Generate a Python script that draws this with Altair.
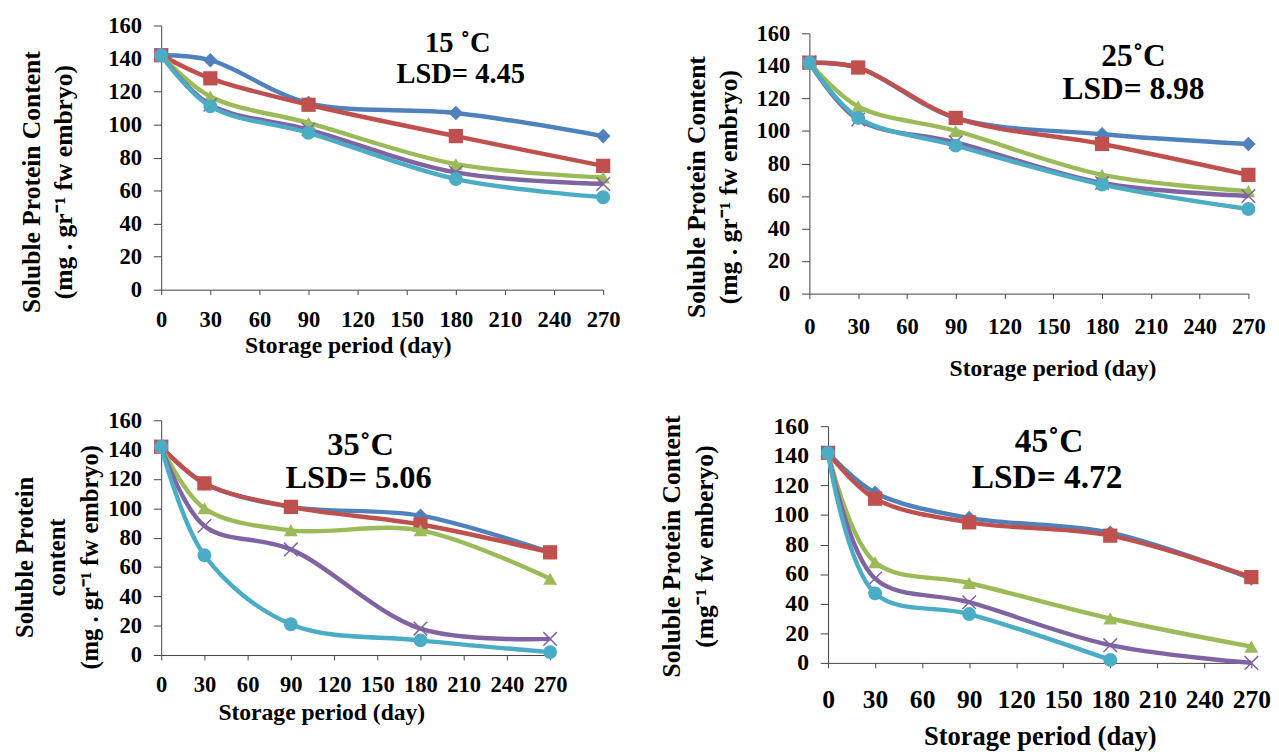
import altair as alt
import pandas as pd

days = [0, 30, 90, 180, 270]
series_names = ["S1", "S2", "S3", "S4", "S5"]
series_colors = ["#4F81BD", "#C0504D", "#9BBB59", "#8064A2", "#4BACC6"]
series_shapes = ["diamond", "square", "triangle-up", "x", "circle"]

# 15 C
t15_s1 = [142, 139, 113, 107, 93]
t15_s2 = [142, 128, 112, 93, 75]
t15_s3 = [142, 117, 101, 76, 68]
t15_s4 = [142, 112, 97, 71, 64]
t15_s5 = [142, 111, 95, 67, 56]
# 25 C
t25_s1 = [142, 139, 108, 98, 92]
t25_s2 = [142, 139, 108, 92, 73]
t25_s3 = [142, 115, 100, 73, 63]
t25_s4 = [142, 107, 93, 68, 60]
t25_s5 = [142, 108, 91, 67, 52]
# 35 C
t35_s1 = [142, 117, 101, 95, 70]
t35_s2 = [142, 117, 101, 89, 70]
t35_s3 = [142, 100, 85, 85, 52]
t35_s4 = [142, 88, 72, 18, 11]
t35_s5 = [142, 68, 21, 10, 2]
# 45 C
t45_s1 = [142, 115, 98, 88, 57]
t45_s2 = [142, 111, 95, 86, 58]
t45_s3 = [142, 68, 54, 30, 11]
t45_s4 = [142, 57, 41, 12, 0]
t45_s5 = [142, 47, 33, 2, None]

panel_values = {
    "15": [t15_s1, t15_s2, t15_s3, t15_s4, t15_s5],
    "25": [t25_s1, t25_s2, t25_s3, t25_s4, t25_s5],
    "35": [t35_s1, t35_s2, t35_s3, t35_s4, t35_s5],
    "45": [t45_s1, t45_s2, t45_s3, t45_s4, t45_s5],
}
temp_labels = {"15": "15  \u02daC", "25": "25\u02daC", "35": "35\u02daC", "45": "45\u02daC"}
lsd_labels = {"15": "LSD= 4.45", "25": "LSD= 8.98", "35": "LSD= 5.06", "45": "LSD= 4.72"}
y_titles = {
    "15": ["Soluble  Protein Content", "(mg . gr\u207b\u00b9 fw embryo)"],
    "25": ["Soluble  Protein Content", "(mg . gr\u207b\u00b9 fw embryo)"],
    "35": ["Soluble  Protein", "content", "(mg . gr\u207b\u00b9 fw  embryo)"],
    "45": ["Soluble Protein Content", "(mg\u207b\u00b9 fw emberyo)"],
}
x_title = "Storage period (day)"

rows = []
for p, vals in panel_values.items():
    for name, arr in zip(series_names, vals):
        for d, v in zip(days, arr):
            if v is not None:
                rows.append({"panel": p, "series": name, "day": d, "value": v})
df = pd.DataFrame(rows)

X_PATH = "M-1,-1L1,1M-1,1L1,-1"
FONT = "Liberation Serif"


def panel(p, w, h, cfg):
    top = cfg["top"]
    H = h + top
    data = df[df.panel == p]
    base = alt.Chart(data)
    xenc = alt.X("day:Q", scale=alt.Scale(domain=[0, 270], nice=False),
                 axis=alt.Axis(values=list(range(0, 271, 30)), title=x_title,
                               labelFontSize=cfg["xlab"], titleFontSize=cfg["xtit"],
                               labelPadding=cfg["xlabpad"], titlePadding=cfg["xtitpad"],
                               titleX=w / 2 + cfg["xtitshift"], tickSize=5))
    yenc = alt.Y("value:Q", scale=alt.Scale(domain=[0, 160], nice=False, range=[H, top]),
                 axis=alt.Axis(values=list(range(0, 161, 20)), title=y_titles[p],
                               labelFontSize=cfg["ylab"], titleFontSize=cfg["ytit"],
                               titleLineHeight=33, titleX=cfg["ytitx"], titleBaseline="top",
                               titleY=H / 2 + cfg["ytitshift"], tickSize=8, labelPadding=12))
    layers = []
    for name, color, shape in zip(series_names, series_colors, series_shapes):
        sub = base.transform_filter(alt.datum.series == name)
        layers.append(sub.mark_line(color=color, strokeWidth=4.5,
                                    interpolate="catmull-rom").encode(x=xenc, y=yenc))
        if shape == "x":
            layers.append(sub.mark_point(shape=X_PATH, color=color, filled=False,
                                         strokeWidth=1.5, size=190, opacity=1)
                          .encode(x=xenc, y=yenc))
        else:
            size = {"diamond": 220, "square": 210, "triangle-up": 200, "circle": 200}[shape]
            layers.append(sub.mark_point(shape=shape, color=color, filled=True,
                                         size=size, opacity=1)
                          .encode(x=xenc, y=yenc))
    tx, ty, lx, ly = cfg["ann"]
    t1 = alt.Chart(pd.DataFrame({"t": [temp_labels[p]]})).mark_text(
        font=FONT, fontWeight="bold", fontSize=cfg["annsize"], color="black"
    ).encode(text="t:N", x=alt.value(tx), y=alt.value(ty))
    t2 = alt.Chart(pd.DataFrame({"t": [lsd_labels[p]]})).mark_text(
        font=FONT, fontWeight="bold", fontSize=cfg["annsize"], color="black"
    ).encode(text="t:N", x=alt.value(lx), y=alt.value(ly))
    layers += [t1, t2]
    return alt.layer(*layers).properties(width=w, height=H)


cfg15 = dict(top=0, xlab=23, xtit=24, ylab=23, ytit=26, xlabpad=14, xtitpad=3, xtitshift=-35,
             ytitx=-145, ytitshift=24.5, ann=(302, 18, 305, 50), annsize=29)
cfg25 = dict(top=8, xlab=23, xtit=24, ylab=23, ytit=26, xlabpad=18, xtitpad=18, xtitshift=24,
             ytitx=-128, ytitshift=27.5, ann=(330, 31, 330, 65), annsize=32)
cfg35 = dict(top=0, xlab=23, xtit=24, ylab=23, ytit=25, xlabpad=14, xtitpad=5, xtitshift=-35,
             ytitx=-151, ytitshift=19.5, ann=(203, 25, 201, 59), annsize=33)
cfg45 = dict(top=6, xlab=26, xtit=27, ylab=24, ytit=26, xlabpad=19, xtitpad=12, xtitshift=0,
             ytitx=-172, ytitshift=4.5, ann=(225, 22, 223, 59), annsize=34)

p15 = panel("15", 450, 269, cfg15)
p25 = panel("25", 447, 265, cfg25)
p35 = panel("35", 396, 239, cfg35)
p45 = panel("45", 431, 241, cfg45)

row1 = alt.hconcat(p15, p25, spacing=63)
row2 = alt.hconcat(p35, p45, spacing=93)

chart = alt.ConcatChart(concat=[row1, row2], columns=1, align="none", spacing=30).configure(
    padding={"left": 4, "top": 0, "right": 0, "bottom": 0}
).configure_axis(
    labelFont=FONT, labelFontWeight="bold", labelColor="black",
    titleFont=FONT, titleFontWeight="bold", titleColor="black",
    domainColor="#404040", tickColor="#404040", grid=False, labelFlush=False,
).configure_view(stroke=None)

chart.save("out.html", embed_options={"renderer": "svg", "actions": False})
